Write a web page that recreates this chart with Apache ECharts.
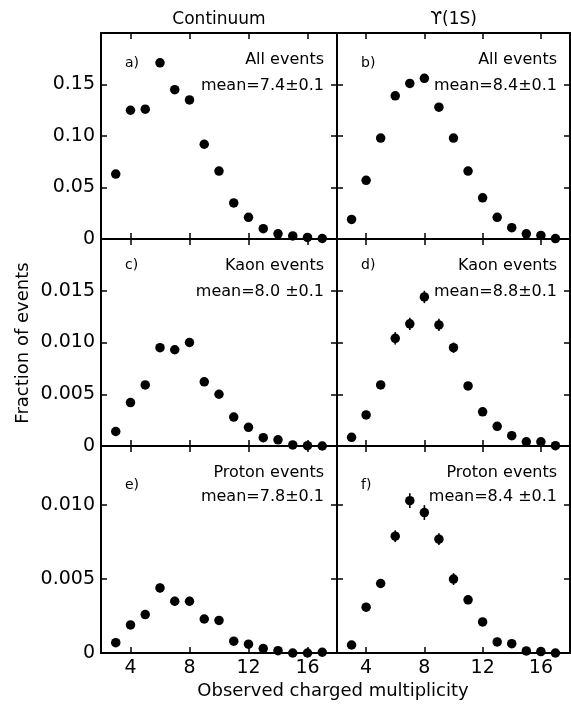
<!DOCTYPE html>
<html>
<head>
<meta charset="utf-8">
<script src="https://cdn.jsdelivr.net/npm/echarts@6/dist/echarts.min.js"></script>
<style>
  html, body { margin: 0; padding: 0; background: #fff; }
  #chart { width: 571px; height: 706px; }
</style>
</head>
<body>
<div id="chart"></div>
<script>
// Observed charged multiplicity bins
const multiplicity = [3, 4, 5, 6, 7, 8, 9, 10, 11, 12, 13, 14, 15, 16, 17];

// a) Continuum, all events
const contAll = [0.063, 0.125, 0.126, 0.171, 0.145, 0.135, 0.092, 0.066, 0.035, 0.021, 0.010, 0.005, 0.003, 0.0015, 0.0005];
// b) Upsilon(1S), all events
const upsAll = [0.019, 0.057, 0.098, 0.139, 0.151, 0.156, 0.128, 0.098, 0.066, 0.040, 0.021, 0.011, 0.005, 0.0035, 0.0004];
// c) Continuum, kaon events
const contKaon = [0.0014, 0.0042, 0.0059, 0.0095, 0.0093, 0.0100, 0.0062, 0.0050, 0.0028, 0.0018, 0.0008, 0.0006, 0.0001, 0.00003, 0];
const contKaonErr = [0, 0, 0, 0.0004, 0.0004, 0.0004, 0, 0, 0, 0, 0, 0, 0, 0, 0];
// d) Upsilon(1S), kaon events
const upsKaon = [0.00084, 0.0030, 0.0059, 0.0104, 0.0118, 0.0144, 0.0117, 0.0095, 0.0058, 0.0033, 0.0019, 0.0010, 0.0004, 0.0004, 0.00003];
const upsKaonErr = [0, 0, 0, 0.0006, 0.0006, 0.0006, 0.0006, 0.0005, 0, 0, 0, 0, 0, 0, 0];
// e) Continuum, proton events
const contProton = [0.0007, 0.0019, 0.0026, 0.0044, 0.0035, 0.0035, 0.0023, 0.0022, 0.0008, 0.0006, 0.0003, 0.00016, 0, 0, 0.00005];
const contProtonErr = [0, 0, 0, 0.0003, 0.0003, 0.0003, 0, 0, 0, 0, 0, 0, 0, 0, 0];
// f) Upsilon(1S), proton events
const upsProton = [0.00054, 0.0031, 0.0047, 0.0079, 0.0103, 0.0095, 0.0077, 0.0050, 0.0036, 0.0021, 0.00075, 0.00063, 0.00014, 0.0001, 0];
const upsProtonErr = [0, 0, 0.0003, 0.0004, 0.0005, 0.0005, 0.0004, 0.0004, 0.0003, 0, 0, 0, 0, 0, 0];

// Axis ticks and labels
const xTicks = [4, 8, 12, 16];
const yTicksAll = [0, 0.05, 0.10, 0.15];
const yLabelsAll = ['0', '0.05', '0.10', '0.15'];
const yTicksKaon = [0, 0.005, 0.010, 0.015];
const yLabelsKaon = ['0', '0.005', '0.010', '0.015'];
const yTicksProton = [0, 0.005, 0.010];
const yLabelsProton = ['0', '0.005', '0.010'];
const yMax = [0.2, 0.02, 0.014];

// Panel texts
const columnTitles = ['Continuum', '\u03D2(1S)'];
const panelLetters = ['a)', 'b)', 'c)', 'd)', 'e)', 'f)'];
const panelTitles = ['All events', 'All events', 'Kaon events', 'Kaon events', 'Proton events', 'Proton events'];
const panelMeans = ['mean=7.4\u00B10.1', 'mean=8.4\u00B10.1', 'mean=8.0 \u00B10.1', 'mean=8.8\u00B10.1', 'mean=7.8\u00B10.1', 'mean=8.4 \u00B10.1'];
const xTitle = 'Observed charged multiplicity';
const yTitle = 'Fraction of events';

const panelValues = [contAll, upsAll, contKaon, upsKaon, contProton, upsProton];
const panelErrors = [null, null, contKaonErr, upsKaonErr, contProtonErr, upsProtonErr];
const rowTicks = [yTicksAll, yTicksKaon, yTicksProton];
const rowLabels = [yLabelsAll, yLabelsKaon, yLabelsProton];

const FONT = 'DejaVu Sans';
const INK = '#000';

// Frame layout
const colLeft = [101, 337];
const colWidth = [236, 233];
const rowTop = [33, 239, 446];
const rowHeight = [206, 207, 207];

const grids = [], xAxes = [], yAxes = [], series = [];

for (let i = 0; i < 6; i++) {
  const row = Math.floor(i / 2), col = i % 2;
  grids.push({ left: colLeft[col], top: rowTop[row], width: colWidth[col], height: rowHeight[row], containLabel: false });

  const tickStyle = { show: true, inside: true, length: 6, customValues: xTicks, lineStyle: { color: INK, width: 1.5 } };
  const lineStyle = { show: true, onZero: false, lineStyle: { color: INK, width: 2 } };

  // bottom x axis
  xAxes.push({
    type: 'value', gridIndex: i, position: 'bottom', min: 2, max: 18,
    axisLine: lineStyle, axisTick: tickStyle, splitLine: { show: false },
    axisLabel: {
      show: row === 2, customValues: xTicks, color: INK, fontFamily: FONT, fontSize: 19, margin: 6
    }
  });
  // top x axis (ticks only)
  xAxes.push({
    type: 'value', gridIndex: i, position: 'top', min: 2, max: 18,
    axisLine: lineStyle, axisTick: tickStyle, splitLine: { show: false }, axisLabel: { show: false }
  });

  const ticks = rowTicks[row], labels = rowLabels[row];
  const yTickStyle = { show: true, inside: true, length: 6, customValues: ticks, lineStyle: { color: INK, width: 1.5 } };
  // left y axis
  yAxes.push({
    type: 'value', gridIndex: i, position: 'left', min: 0, max: yMax[row],
    axisLine: lineStyle, axisTick: yTickStyle, splitLine: { show: false },
    axisLabel: {
      show: col === 0, customValues: ticks, color: INK, fontFamily: FONT, fontSize: 19, margin: 6,
      formatter: (v) => {
        let best = 0;
        for (let k = 1; k < ticks.length; k++) if (Math.abs(ticks[k] - v) < Math.abs(ticks[best] - v)) best = k;
        return labels[best];
      }
    }
  });
  // right y axis (ticks only)
  yAxes.push({
    type: 'value', gridIndex: i, position: 'right', min: 0, max: yMax[row],
    axisLine: lineStyle, axisTick: yTickStyle, splitLine: { show: false }, axisLabel: { show: false }
  });

  const pts = multiplicity.map((m, k) => [m, panelValues[i][k]]);
  series.push({
    type: 'scatter', xAxisIndex: 2 * i, yAxisIndex: 2 * i,
    data: pts, symbol: 'circle', symbolSize: 9.5,
    itemStyle: { color: INK, opacity: 1 }, silent: true, z: 5
  });

  const errs = panelErrors[i];
  if (errs) {
    const errData = multiplicity.map((m, k) => [m, panelValues[i][k], errs[k]]).filter(d => d[2] > 0);
    series.push({
      type: 'custom', xAxisIndex: 2 * i, yAxisIndex: 2 * i, data: errData, silent: true, z: 4,
      renderItem: (params, api) => {
        const x = api.value(0), y = api.value(1), e = api.value(2);
        const p1 = api.coord([x, y - e]), p2 = api.coord([x, y + e]);
        return {
          type: 'line',
          shape: { x1: p1[0], y1: p1[1], x2: p2[0], y2: p2[1] },
          style: { stroke: INK, lineWidth: 1.6 }
        };
      }
    });
  }
}

// Text overlays: column titles, panel captions, axis titles
const graphics = [];
const colCenter = [colLeft[0] + colWidth[0] / 2, colLeft[1] + colWidth[1] / 2];
columnTitles.forEach((t, c) => {
  graphics.push({ type: 'text', x: colCenter[c], y: 20,
    style: { text: t, fill: INK, font: '17px "' + FONT + '"', textAlign: 'center', textVerticalAlign: 'middle' } });
});
const letterOffsetY = [30, 26, 39];
const titleOffsetY = [27, 27, 27];
const meanOffsetY = [53, 53, 51];
for (let i = 0; i < 6; i++) {
  const row = Math.floor(i / 2), col = i % 2;
  const left = colLeft[col], right = colLeft[col] + colWidth[col];
  const top = rowTop[row];
  graphics.push({ type: 'text', x: left + 24, y: top + letterOffsetY[row],
    style: { text: panelLetters[i], fill: INK, font: '14px "' + FONT + '"', textAlign: 'left', textVerticalAlign: 'middle' } });
  graphics.push({ type: 'text', x: right - 13, y: top + titleOffsetY[row],
    style: { text: panelTitles[i], fill: INK, font: '16px "' + FONT + '"', textAlign: 'right', textVerticalAlign: 'middle' } });
  graphics.push({ type: 'text', x: right - 13, y: top + meanOffsetY[row],
    style: { text: panelMeans[i], fill: INK, font: '16px "' + FONT + '"', textAlign: 'right', textVerticalAlign: 'middle' } });
}
graphics.push({ type: 'text', x: 333, y: 691,
  style: { text: xTitle, fill: INK, font: '18px "' + FONT + '"', textAlign: 'center', textVerticalAlign: 'middle' } });
graphics.push({ type: 'text', x: 23, y: 343, rotation: Math.PI / 2,
  style: { text: yTitle, fill: INK, font: '18px "' + FONT + '"', textAlign: 'center', textVerticalAlign: 'middle' } });

const chart = echarts.init(document.getElementById('chart'), null, { renderer: 'canvas' });
chart.setOption({
  animation: false,
  backgroundColor: '#fff',
  grid: grids,
  xAxis: xAxes,
  yAxis: yAxes,
  series: series,
  graphic: graphics
});
</script>
</body>
</html>
